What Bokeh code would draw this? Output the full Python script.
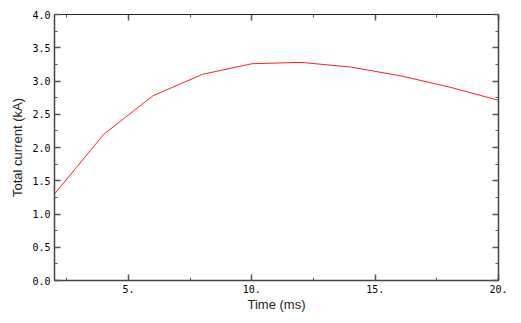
from bokeh.plotting import figure
from bokeh.models import LinearAxis, FixedTicker, Range1d, PrintfTickFormatter, CustomJSTickFormatter
from bokeh.embed import file_html
from bokeh.resources import INLINE

time_ms = [2, 4, 6, 8, 10, 12, 14, 16, 18, 20]
current_ka = [1.30, 2.20, 2.78, 3.10, 3.26, 3.28, 3.21, 3.08, 2.91, 2.71]

x_major = [5, 10, 15, 20]
x_minor = [2.5, 7.5, 12.5, 17.5]
y_major = [0.0, 0.5, 1.0, 1.5, 2.0, 2.5, 3.0, 3.5, 4.0]
y_minor = [0.25, 0.75, 1.25, 1.75, 2.25, 2.75, 3.25, 3.75]

p = figure(frame_width=444, frame_height=266, output_backend="svg", toolbar_location=None,
           x_range=Range1d(2, 20), y_range=Range1d(0, 4),
           x_axis_location=None, y_axis_location=None,
           min_border_left=54, min_border_right=12, min_border_top=14, min_border_bottom=36)
p.grid.visible = False
p.outline_line_color = "#222222"
p.background_fill_color = "white"
p.border_fill_color = "white"

p.line(time_ms, current_ka, line_color="#ff2020", line_width=1)

def style(ax, show_labels):
    ax.axis_line_color = "#444444"
    ax.axis_line_width = 1.5
    ax.major_tick_in = 6
    ax.major_tick_out = 0
    ax.minor_tick_in = 3
    ax.minor_tick_out = 0
    ax.major_tick_line_color = "#555555"
    ax.minor_tick_line_color = "#555555"
    ax.major_tick_line_width = 1.5
    ax.major_label_text_font = "DejaVu Sans Mono"
    ax.major_label_text_font_size = "10px"
    ax.major_label_text_color = "#000000"
    ax.major_label_standoff = 4 if show_labels else 0
    ax.axis_label_text_font = "Liberation Sans"
    ax.axis_label_text_font_size = "13px"
    ax.axis_label_text_font_style = "normal"
    ax.axis_label_text_color = "#222222"

xb = LinearAxis(ticker=FixedTicker(ticks=x_major, minor_ticks=x_minor),
                formatter=PrintfTickFormatter(format="%d."), axis_label="Time (ms)")
style(xb, True)
xb.axis_label_standoff = 1
p.add_layout(xb, "below")

yl = LinearAxis(ticker=FixedTicker(ticks=y_major, minor_ticks=y_minor),
                formatter=PrintfTickFormatter(format="%.1f"), axis_label="Total current (kA)")
style(yl, True)
yl.axis_label_standoff = 4
p.add_layout(yl, "left")

blank = CustomJSTickFormatter(code="return '';")

xt = LinearAxis(ticker=FixedTicker(ticks=x_major, minor_ticks=x_minor), formatter=blank)
style(xt, False)
xt.axis_line_color = "#222222"
xt.axis_line_width = 1
p.add_layout(xt, "above")

yr = LinearAxis(ticker=FixedTicker(ticks=y_major, minor_ticks=y_minor), formatter=blank)
style(yr, False)
p.add_layout(yr, "right")

open("out.html", "w").write(file_html(p, INLINE))
